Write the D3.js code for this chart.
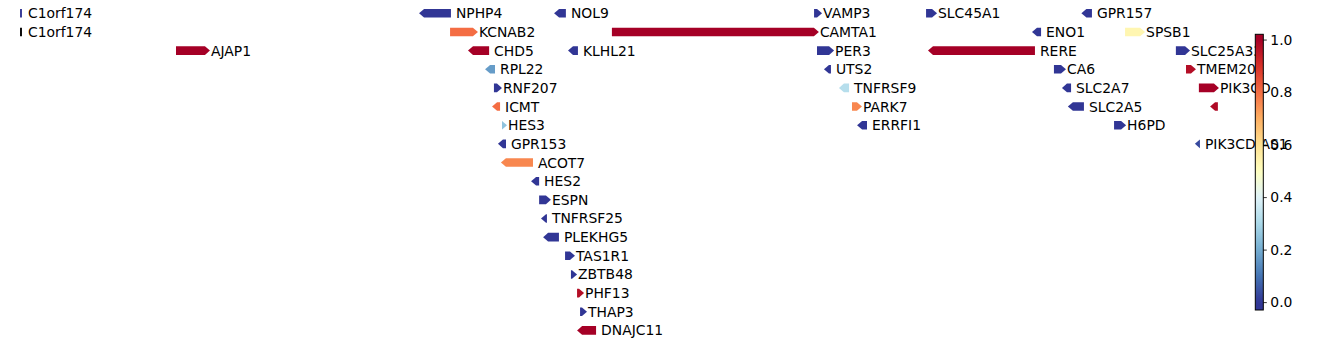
<!DOCTYPE html>
<html><head><meta charset="utf-8">
<script src="https://cdn.jsdelivr.net/npm/d3@7"></script>
<style>body{margin:0;background:#fff;}svg{display:block;font-family:"DejaVu Sans",sans-serif;}</style>
</head><body><svg id="c" width="1338" height="344"></svg>
<script>
// ---- data ----
const geneNames  = ["C1orf174","NPHP4","NOL9","VAMP3","SLC45A1","GPR157",
  "C1orf174","KCNAB2","CAMTA1","ENO1","SPSB1",
  "AJAP1","CHD5","KLHL21","PER3","RERE","SLC25A33",
  "RPL22","UTS2","CA6","TMEM201",
  "RNF207","TNFRSF9","SLC2A7","PIK3CD",
  "ICMT","PARK7","SLC2A5","",
  "HES3","ERRFI1","H6PD",
  "GPR153","PIK3CD-AS1",
  "ACOT7","HES2","ESPN","TNFRSF25","PLEKHG5","TAS1R1","ZBTB48","PHF13","THAP3","DNAJC11"];
const geneStart  = [3.971,5.862,6.502,7.734,8.265,9.001,
  3.971,6.009,6.776,8.767,9.208,
  4.710,6.094,6.568,7.748,8.274,9.449,
  6.175,7.781,8.871,9.497,
  6.217,7.852,8.909,9.558,
  6.208,7.914,8.937,9.611,
  6.255,7.938,9.156,
  6.236,9.539,
  6.250,6.393,6.431,6.440,6.450,6.554,6.582,6.611,6.625,6.611];
const geneEnd    = [3.980,6.013,6.558,7.772,8.317,9.051,
  3.980,6.141,7.757,8.810,9.303,
  4.871,6.194,6.615,7.829,8.781,9.516,
  6.222,7.814,8.928,9.544,
  6.255,7.900,8.952,9.653,
  6.246,7.961,9.013,9.648,
  6.279,7.985,9.213,
  6.274,9.563,
  6.402,6.431,6.487,6.468,6.525,6.601,6.611,6.644,6.658,6.701];
const geneStrand = [0,-1,-1,1,1,-1,
  0,1,1,-1,1,
  1,-1,-1,1,-1,1,
  -1,-1,1,1,
  1,-1,-1,1,
  -1,1,-1,-1,
  1,-1,1,
  -1,-1,
  -1,-1,1,-1,-1,1,1,1,1,-1];
const geneRow    = [0,0,0,0,0,0,
  1,1,1,1,1,
  2,2,2,2,2,2,
  3,3,3,3,
  4,4,4,4,
  5,5,5,5,
  6,6,6,
  7,7,
  8,9,10,11,12,13,14,15,16,17];
const geneValue  = [0,0,0,0,0,0,
  null,0.8,1.0,0,0.53,
  1.0,1.0,0,0,1.0,0,
  0.17,0,0,0.97,
  0,0.32,0,1.0,
  0.8,0.76,0,0.98,
  0.25,0,0,
  0,0.03,
  0.76,0,0,0,0,0,0,0.97,0,1.0];
const cbarTicks = [0.0,0.2,0.4,0.6,0.8,1.0];
const cbarDomain = [-0.03,1.02];

// ---- colormap (matplotlib RdYlBu_r) ----
const cmapColors = ["#313695","#4575b4","#74add1","#abd9e9","#e0f3f8","#ffffbf","#fee090","#fdae61","#f46d43","#d73027","#a50026"];
const cmap = d3.scaleLinear().domain(d3.range(11).map(i=>i/10)).range(cmapColors).interpolate(d3.interpolateRgb).clamp(true);
const colorOf = v => v==null ? "#000000" : cmap(v);

const svg = d3.select("#c");
const x = d3.scaleLinear().domain([3.876, 3.876+1338/211]).range([0,1338]);
const y = d3.scaleLinear().domain([0,17]).range([13.3,330.4]);
const H = 8.6, HEAD = 5;

const genes = geneNames.map((n,i)=>({name:n,s:geneStart[i],e:geneEnd[i],str:geneStrand[i],row:geneRow[i],v:geneValue[i]}));

function shape(d){
  const x0=x(d.s), x1=x(d.e), yc=y(d.row), t=yc-H/2, b=yc+H/2;
  const w=x1-x0, h=Math.min(HEAD,w);
  if(d.str>0) return `M${x0},${t}L${x1-h},${t}L${x1},${yc}L${x1-h},${b}L${x0},${b}Z`;
  if(d.str<0) return `M${x1},${t}L${x0+h},${t}L${x0},${yc}L${x0+h},${b}L${x1},${b}Z`;
  return `M${x0},${t}L${x1},${t}L${x1},${b}L${x0},${b}Z`;
}
const g = svg.append("g");
g.selectAll("path.gene").data(genes).join("path").attr("class","gene")
  .attr("d",shape).attr("fill",d=>colorOf(d.v));
g.selectAll("text.lbl").data(genes).join("text").attr("class","lbl")
  .attr("x",d=>x(d.e)+(d.str>0?1:(d.str<0?5:6)))
  .attr("y",d=>y(d.row)).attr("dy","0.36em")
  .attr("font-size","13.9px").attr("fill","#000").text(d=>d.name);

// ---- colorbar ----
const cb = svg.append("g");
const cy = d3.scaleLinear().domain(cbarDomain).range([310,34.3]);
const grad = svg.append("defs").append("linearGradient").attr("id","gr")
  .attr("x1",0).attr("y1",1).attr("x2",0).attr("y2",0);
d3.range(0,1.0001,0.02).forEach(t=>{
  const v = cbarDomain[0]+t*(cbarDomain[1]-cbarDomain[0]);
  grad.append("stop").attr("offset",t).attr("stop-color",cmap(v));
});
cb.append("rect").attr("x",1255.3).attr("y",cy(cbarDomain[1])).attr("width",8)
  .attr("height",cy(cbarDomain[0])-cy(cbarDomain[1])).attr("fill","url(#gr)")
  .attr("stroke","#000").attr("stroke-width",1);
const ax = cb.append("g").attr("transform","translate(1263.3,0)")
  .call(d3.axisRight(cy).tickValues(cbarTicks).tickFormat(d3.format(".1f")).tickSize(3.5).tickPadding(3.5));
ax.select(".domain").remove();
ax.selectAll("text").attr("font-size","13.9px").attr("font-family","DejaVu Sans").attr("fill","#000");
ax.selectAll("line").attr("stroke","#000").attr("stroke-width",0.8);
</script></body></html>
